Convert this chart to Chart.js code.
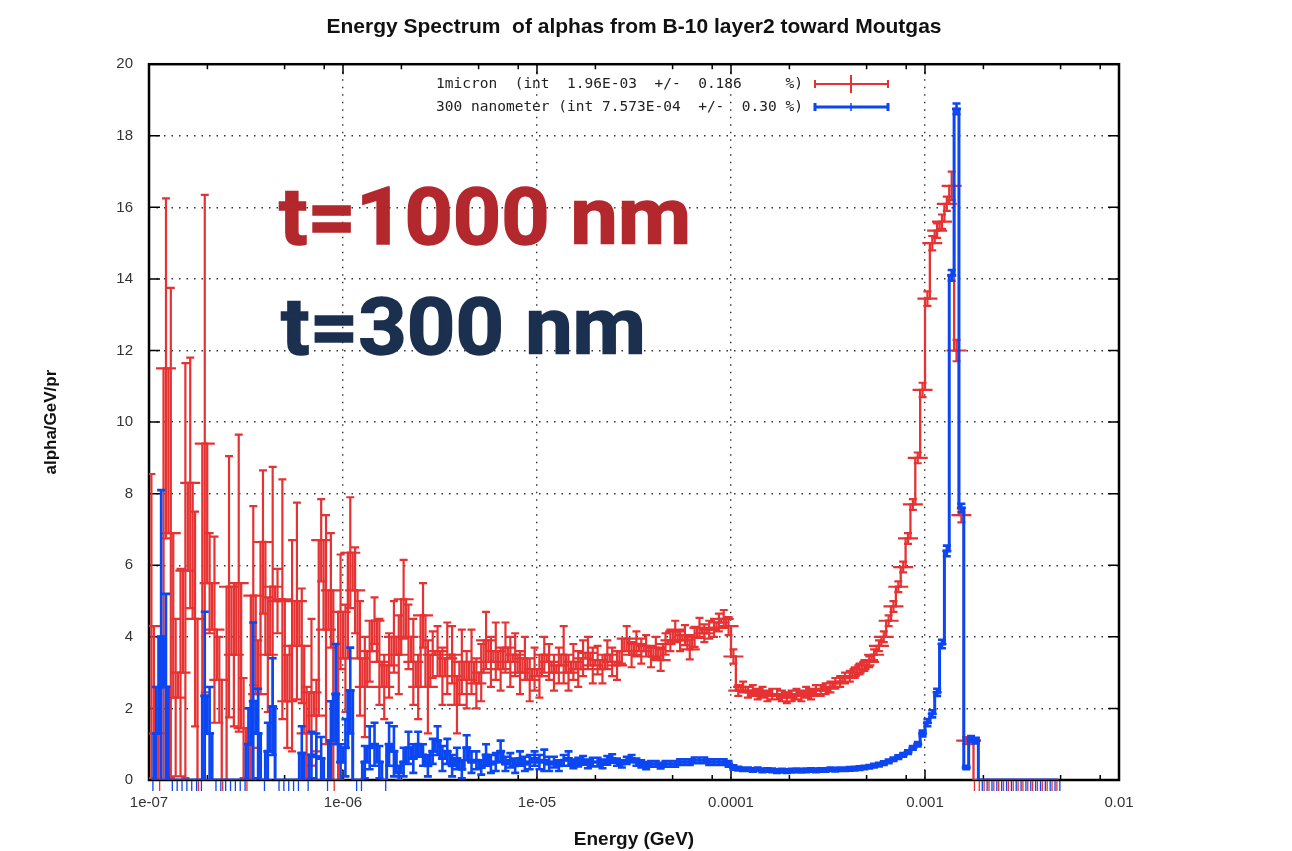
<!DOCTYPE html>
<html>
<head>
<meta charset="utf-8">
<script src="https://cdn.jsdelivr.net/npm/chart.js@4.4.0/dist/chart.umd.min.js"></script>
<style>
    body { margin: 0; background: #fff; }
    #charts { width: 1292px; height: 851px; }
</style>
</head>
<body>
<div id="charts"><canvas id="myChart" width="1292" height="851"></canvas></div>
<script>
// log binning of the scored spectrum: 40 bins per decade from 1e-7 GeV
const binLow = 1e-7
const binsPerDecade = 40

// 1 micron layer (red)
const micronVals = [
    4.3, 1.3, 0, 11.5, 6.9, 2.3, 3.0, 5.85, 8.3, 4.5,
    0, 9.4, 5.5, 4.2, 2.8, 0, 5.4, 3.5, 5.5, 1.45,
    0, 5.15, 2.4, 6.65, 3.5, 5.4, 5.0, 5.05, 2.2, 3.75,
    5.0, 3.75, 1.3, 2.45, 1.8, 6.7, 4.2, 5.3, 0, 4.7,
    3.4, 6.35, 5.3, 3.4, 2.6, 3.6, 4.45, 3.3, 2.6, 3.2,
    4.0, 3.5, 5.05, 4.0, 3.3, 2.6, 4.6, 2.6, 3.5, 3.6,
    2.9, 3.4, 3.5, 2.1, 3.3, 2.8, 3.3, 2.7, 3.0, 3.9,
    3.3, 3.6, 3.1, 3.7, 3.3, 3.5, 3.0, 3.4, 2.8, 3.1,
    2.9, 3.5, 3.3, 3.0, 3.2, 3.5, 3.0, 3.3, 3.1, 3.4,
    3.55, 3.2, 3.35, 3.1, 3.5, 3.3, 3.2, 3.6, 3.95, 3.5,
    3.8, 3.6, 3.75, 3.45, 3.7, 3.35, 3.8, 3.9, 4.15, 3.9,
    4.05, 3.65, 4.0, 4.25, 4.1, 4.2, 4.25, 4.4, 4.5, 4.3,
    3.45, 2.5, 2.6, 2.45, 2.5, 2.4, 2.45, 2.35, 2.4, 2.4,
    2.35, 2.3, 2.35, 2.4, 2.35, 2.45, 2.4, 2.5, 2.5, 2.55,
    2.6, 2.7, 2.75, 2.85, 2.9, 3.0, 3.1, 3.2, 3.3, 3.5,
    3.75, 4.0, 4.45, 4.85, 5.4, 5.95, 6.75, 7.7, 9.0, 10.9,
    13.45, 15.0, 15.35, 15.6, 16.1, 16.6, 12.0, 7.4, 1.1, 1.1,
    0, 0, 0, 0, 0, 0, 0, 0, 0, 0,
    0, 0, 0, 0, 0, 0, 0, 0
]
const micronErr = [
    4.25, 1.3, 0, 4.75, 6.85, 2.2, 2.9, 5.8, 3.5, 3.0,
    0, 6.95, 1.4, 2.6, 1.2, 0, 3.65, 2.0, 4.15, 1.4,
    0, 2.5, 1.5, 2.0, 1.6, 3.35, 0.9, 3.35, 1.3, 2.95,
    2.75, 1.6, 1.3, 2.05, 1.0, 1.15, 3.2, 1.6, 0, 1.6,
    1.5, 1.55, 1.2, 1.6, 1.4, 0.85, 0.65, 1.2, 0.9, 0.9,
    1.0, 1.1, 1.1, 0.9, 1.2, 0.9, 0.9, 1.3, 0.65, 0.7,
    0.8, 1.0, 0.8, 0.8, 0.9, 0.8, 0.9, 0.7, 0.8, 0.8,
    0.7, 0.8, 0.6, 0.7, 0.7, 0.6, 0.6, 0.6, 0.6, 0.6,
    0.6, 0.5, 0.5, 0.5, 0.5, 0.8, 0.5, 0.5, 0.5, 0.5,
    0.45, 0.5, 0.4, 0.4, 0.4, 0.4, 0.4, 0.35, 0.35, 0.35,
    0.35, 0.35, 0.3, 0.3, 0.3, 0.3, 0.3, 0.3, 0.3, 0.3,
    0.28, 0.28, 0.28, 0.28, 0.25, 0.25, 0.25, 0.25, 0.25, 0.25,
    0.2, 0.15, 0.15, 0.15, 0.15, 0.15, 0.15, 0.15, 0.15, 0.15,
    0.15, 0.15, 0.15, 0.15, 0.15, 0.15, 0.15, 0.15, 0.15, 0.15,
    0.15, 0.15, 0.15, 0.15, 0.15, 0.15, 0.15, 0.15, 0.15, 0.15,
    0.15, 0.15, 0.15, 0.15, 0.15, 0.15, 0.15, 0.15, 0.15, 0.2,
    0.2, 0.2, 0.2, 0.2, 0.2, 0.4, 0.3, 0.2, 0.1, 0.1,
    0, 0, 0, 0, 0, 0, 0, 0, 0, 0,
    0, 0, 0, 0, 0, 0, 0, 0
]

// 300 nanometer layer (blue)
const nanoVals = [
    0, 1.3, 4.0, 2.6, 0, 0, 0, 0, 0, 0,
    0, 2.35, 1.3, 0, 0, 0, 0, 0, 0, 0,
    1.0, 2.2, 1.3, 0, 0.8, 2.05, 0, 0, 0, 0,
    0, 0.75, 0, 0.7, 0.65, 0.6, 0, 1.1, 2.4, 0.5,
    0.9, 2.5, 0, 0, 0.5, 0.9, 1.0, 0.5, 0, 1.0,
    0.8, 0.2, 0.5, 0.9, 0.6, 1.0, 0.7, 0.4, 0.8, 1.1,
    0.6, 0.8, 0.4, 0.6, 0.3, 0.9, 0.5, 0.55, 0.35, 0.7,
    0.45, 0.5, 0.8, 0.45, 0.55, 0.4, 0.6, 0.45, 0.5, 0.6,
    0.5, 0.55, 0.45, 0.5, 0.4, 0.55, 0.6, 0.45, 0.5, 0.55,
    0.45, 0.5, 0.5, 0.45, 0.55, 0.6, 0.5, 0.45, 0.55, 0.6,
    0.5, 0.45, 0.4, 0.45, 0.45, 0.4, 0.45, 0.45, 0.45, 0.5,
    0.5, 0.5, 0.55, 0.55, 0.55, 0.5, 0.5, 0.5, 0.5, 0.45,
    0.35, 0.32, 0.3, 0.3, 0.28, 0.3, 0.27, 0.28, 0.27, 0.25,
    0.26, 0.25, 0.26, 0.27, 0.26, 0.27, 0.28, 0.27, 0.28, 0.28,
    0.3, 0.29, 0.3, 0.3, 0.31, 0.32, 0.33, 0.35, 0.37, 0.4,
    0.43, 0.47, 0.52, 0.58, 0.64, 0.7, 0.78, 0.9, 1.0, 1.3,
    1.6, 1.85, 2.45, 3.8, 6.4, 14.1, 18.75, 7.6, 0.35, 1.15,
    1.1, 0, 0, 0, 0, 0, 0, 0, 0, 0,
    0, 0, 0, 0, 0, 0, 0, 0
]
const nanoErr = [
    0, 1.3, 4.1, 2.6, 0, 0, 0, 0, 0, 0,
    0, 2.35, 1.3, 0, 0, 0, 0, 0, 0, 0,
    1.0, 2.2, 1.25, 0, 0.8, 1.35, 0, 0, 0, 0,
    0, 0.75, 0, 0.65, 0.65, 0.6, 0, 1.1, 1.4, 0.5,
    0.8, 1.2, 0, 0, 0.45, 0.6, 0.6, 0.45, 0, 0.6,
    0.7, 0.2, 0.4, 0.45, 0.4, 0.35, 0.3, 0.3, 0.35, 0.4,
    0.35, 0.35, 0.3, 0.3, 0.25, 0.35, 0.3, 0.25, 0.2, 0.3,
    0.25, 0.25, 0.3, 0.2, 0.2, 0.2, 0.2, 0.2, 0.2, 0.2,
    0.2, 0.3, 0.2, 0.15, 0.15, 0.15, 0.2, 0.12, 0.12, 0.12,
    0.12, 0.12, 0.12, 0.12, 0.12, 0.12, 0.1, 0.1, 0.1, 0.1,
    0.1, 0.1, 0.1, 0.08, 0.08, 0.08, 0.08, 0.08, 0.08, 0.08,
    0.08, 0.08, 0.08, 0.08, 0.08, 0.08, 0.08, 0.08, 0.08, 0.08,
    0.06, 0.05, 0.05, 0.05, 0.05, 0.05, 0.05, 0.05, 0.05, 0.05,
    0.05, 0.05, 0.05, 0.05, 0.05, 0.05, 0.05, 0.05, 0.05, 0.05,
    0.05, 0.05, 0.05, 0.05, 0.05, 0.05, 0.05, 0.05, 0.05, 0.05,
    0.05, 0.05, 0.05, 0.05, 0.05, 0.05, 0.05, 0.05, 0.06, 0.08,
    0.1, 0.1, 0.1, 0.12, 0.15, 0.15, 0.15, 0.12, 0.05, 0.08,
    0.08, 0, 0, 0, 0, 0, 0, 0, 0, 0,
    0, 0, 0, 0, 0, 0, 0, 0
]

const yTicks = [0, 2, 4, 6, 8, 10, 12, 14, 16, 18, 20]
const xTickVals = [1e-7, 1e-6, 1e-5, 1e-4, 1e-3, 1e-2]
const xTickLabels = ['1e-07', '1e-06', '1e-05', '0.0001', '0.001', '0.01']
const xMinorMult = [2, 5, 8]
const legendLabels = [
    '1micron  (int  1.96E-03  +/-  0.186     %)',
    '300 nanometer (int 7.573E-04  +/-  0.30 %)'
]
const notes = ['t=1000 nm', 't=300 nm']

const rojo = '#e63232'
const azul = '#0b46f2'

const energias = micronVals.map((v, i) => binLow * Math.pow(10, (i + 0.5) / binsPerDecade))
const puntos = (vals) => vals.map((v, i) => ({ x: energias[i], y: v }))

function fitText(ctx, text, x, y, width, stroke) {
    const w = ctx.measureText(text).width
    ctx.save()
    ctx.translate(x, y)
    ctx.scale(width / w, 1)
    ctx.fillText(text, 0, 0)
    if (stroke) ctx.strokeText(text, 0, 0)
    ctx.restore()
}

// frame with inward gnuplot-style ticks
const marco = {
    id: 'marco',
    beforeDatasetsDraw(chart) {
        const ctx = chart.ctx
        const a = chart.chartArea
        const sx = chart.scales.x
        const sy = chart.scales.y
        ctx.save()
        ctx.strokeStyle = '#000'
        ctx.lineWidth = 1.5
        ctx.beginPath()
        for (const v of yTicks) {
            const py = sy.getPixelForValue(v)
            ctx.moveTo(a.left, py); ctx.lineTo(a.left + 11, py)
            ctx.moveTo(a.right, py); ctx.lineTo(a.right - 11, py)
        }
        for (const v of xTickVals) {
            const px = sx.getPixelForValue(v)
            ctx.moveTo(px, a.bottom); ctx.lineTo(px, a.bottom - 10)
            ctx.moveTo(px, a.top); ctx.lineTo(px, a.top + 10)
            if (v >= 1e-2) continue
            for (const m of xMinorMult) {
                const qx = sx.getPixelForValue(v * m)
                ctx.moveTo(qx, a.bottom); ctx.lineTo(qx, a.bottom - 5)
                ctx.moveTo(qx, a.top); ctx.lineTo(qx, a.top + 5)
            }
        }
        ctx.stroke()
        ctx.lineWidth = 2.5
        ctx.strokeRect(a.left, a.top, a.right - a.left, a.bottom - a.top)
        ctx.restore()
    }
}

// vertical error bars, caps and bin crossbar
const errorBars = {
    id: 'errorBars',
    afterDatasetDraw(chart, args) {
        const ds = chart.data.datasets[args.index]
        if (!ds.errors) return
        const ctx = chart.ctx
        const a = chart.chartArea
        const sy = chart.scales.y
        ctx.save()
        ctx.beginPath()
        ctx.rect(a.left, a.top - 2, a.right - a.left, a.bottom - a.top + 2)
        ctx.clip()
        ctx.strokeStyle = ds.borderColor
        ctx.lineWidth = ds.errWidth
        ctx.beginPath()
        args.meta.data.forEach((pt, i) => {
            const v = ds.data[i].y
            const e = ds.errors[i]
            if (v === 0 && e === 0) return
            const top = sy.getPixelForValue(v + e)
            const bot = sy.getPixelForValue(v - e)
            ctx.moveTo(pt.x, top); ctx.lineTo(pt.x, bot)
            ctx.moveTo(pt.x - ds.capHalf, top); ctx.lineTo(pt.x + ds.capHalf, top)
            ctx.moveTo(pt.x - ds.capHalf, bot); ctx.lineTo(pt.x + ds.capHalf, bot)
            ctx.moveTo(pt.x - ds.barHalf, pt.y); ctx.lineTo(pt.x + ds.barHalf, pt.y)
        })
        ctx.stroke()
        ctx.restore()
        // empty bins show as short marks under the axis
        ctx.save()
        ctx.strokeStyle = ds.borderColor
        ctx.lineWidth = 1.3
        ctx.beginPath()
        args.meta.data.forEach((pt, i) => {
            if (ds.data[i].y !== 0) return
            const px = pt.x + ds.zeroShift
            ctx.moveTo(px, a.bottom + 1); ctx.lineTo(px, a.bottom + 11)
        })
        ctx.stroke()
        ctx.restore()
    }
}

const textos = {
    id: 'textos',
    afterDraw(chart) {
        const ctx = chart.ctx
        ctx.save()
        // legend
        ctx.font = '14.5px "DejaVu Sans Mono"'
        ctx.fillStyle = '#222'
        ctx.textBaseline = 'middle'
        ctx.textAlign = 'left'
        fitText(ctx, legendLabels[0], 436, 84, 367)
        fitText(ctx, legendLabels[1], 436, 107, 367)
        ctx.lineWidth = 2
        ctx.strokeStyle = rojo
        ctx.beginPath()
        ctx.moveTo(815, 84); ctx.lineTo(888, 84)
        ctx.moveTo(815, 80); ctx.lineTo(815, 88)
        ctx.moveTo(888, 80); ctx.lineTo(888, 88)
        ctx.moveTo(851, 75); ctx.lineTo(851, 93)
        ctx.stroke()
        ctx.lineWidth = 3
        ctx.strokeStyle = azul
        ctx.beginPath()
        ctx.moveTo(815, 107); ctx.lineTo(888, 107)
        ctx.moveTo(815, 103); ctx.lineTo(815, 111)
        ctx.moveTo(888, 103); ctx.lineTo(888, 111)
        ctx.stroke()
        ctx.lineWidth = 1.5
        ctx.beginPath()
        ctx.moveTo(851, 103); ctx.lineTo(851, 111)
        ctx.stroke()
        // big labels
        ctx.textBaseline = 'alphabetic'
        ctx.font = 'bold 80px Roboto, "Liberation Sans"'
        ctx.lineWidth = 1.5
        ctx.lineJoin = 'miter'
        ctx.fillStyle = '#b3282d'
        ctx.strokeStyle = '#b3282d'
        fitText(ctx, notes[0], 279, 244, 412, true)
        ctx.fillStyle = '#1b2f4f'
        ctx.strokeStyle = '#1b2f4f'
        fitText(ctx, notes[1], 281, 354, 365, true)
        ctx.restore()
    }
}

const ctx = document.getElementById('myChart')
const gridColor = (lim) => (c) => (c.tick && lim.includes(c.tick.value)) ? 'rgba(0,0,0,0)' : '#333'

new Chart(ctx, {
    type: 'line',
    data: {
        datasets: [{
            label: '300 nanometer',
            data: puntos(nanoVals),
            errors: nanoErr,
            borderColor: azul,
            borderWidth: 3,
            errWidth: 2.6,
            capHalf: 4,
            barHalf: 4.5,
            zeroShift: 1.5,
            stepped: 'middle',
            pointRadius: 0,
            order: 0
        }, {
            label: '1micron',
            data: puntos(micronVals),
            errors: micronErr,
            borderColor: rojo,
            borderWidth: 2.3,
            errWidth: 2.2,
            capHalf: 4,
            barHalf: 10,
            zeroShift: -1.5,
            stepped: 'middle',
            pointRadius: 0,
            order: 1
        }]
    },
    options: {
        responsive: false,
        animation: false,
        layout: { padding: { left: 0, right: 173, top: 0, bottom: 0 } },
        plugins: {
            legend: { display: false },
            tooltip: { enabled: false },
            title: {
                display: true,
                fullSize: false,
                text: 'Energy Spectrum  of alphas from B-10 layer2 toward Moutgas',
                color: '#111',
                font: { family: '"Liberation Sans"', weight: 'bold', size: 21 },
                padding: { top: 15, bottom: 24 }
            }
        },
        scales: {
            x: {
                type: 'logarithmic',
                min: 1e-7,
                max: 1e-2,
                afterFit(scale) { scale.height = 71 },
                afterBuildTicks(scale) { scale.ticks = xTickVals.map(v => ({ value: v })) },
                grid: { drawTicks: false, color: gridColor([1e-7, 1e-2]), lineWidth: 1.4 },
                border: { display: false, dash: [1.5, 6] },
                ticks: {
                    callback: (v, i) => xTickLabels[i],
                    autoSkip: false,
                    maxRotation: 0,
                    padding: 14,
                    color: '#333',
                    font: { family: '"Liberation Sans"', size: 15 }
                },
                title: {
                    display: true,
                    text: 'Energy (GeV)',
                    color: '#111',
                    font: { family: '"Liberation Sans"', weight: 'bold', size: 19 },
                    padding: { top: 0, bottom: 0 }
                }
            },
            y: {
                min: 0,
                max: 20,
                afterFit(scale) { scale.width = 149 },
                afterBuildTicks(scale) { scale.ticks = yTicks.map(v => ({ value: v })) },
                grid: { drawTicks: false, color: gridColor([0, 20]), lineWidth: 1.4 },
                border: { display: false, dash: [1.5, 6] },
                ticks: {
                    padding: 16,
                    color: '#333',
                    font: { family: '"Liberation Sans"', size: 15 }
                },
                title: {
                    display: true,
                    text: 'alpha/GeV/pr',
                    color: '#111',
                    font: { family: '"Liberation Sans"', weight: 'bold', size: 17 },
                    padding: { top: 41, bottom: 0 }
                }
            }
        }
    },
    plugins: [marco, errorBars, textos]
})
</script>
</body>
</html>
